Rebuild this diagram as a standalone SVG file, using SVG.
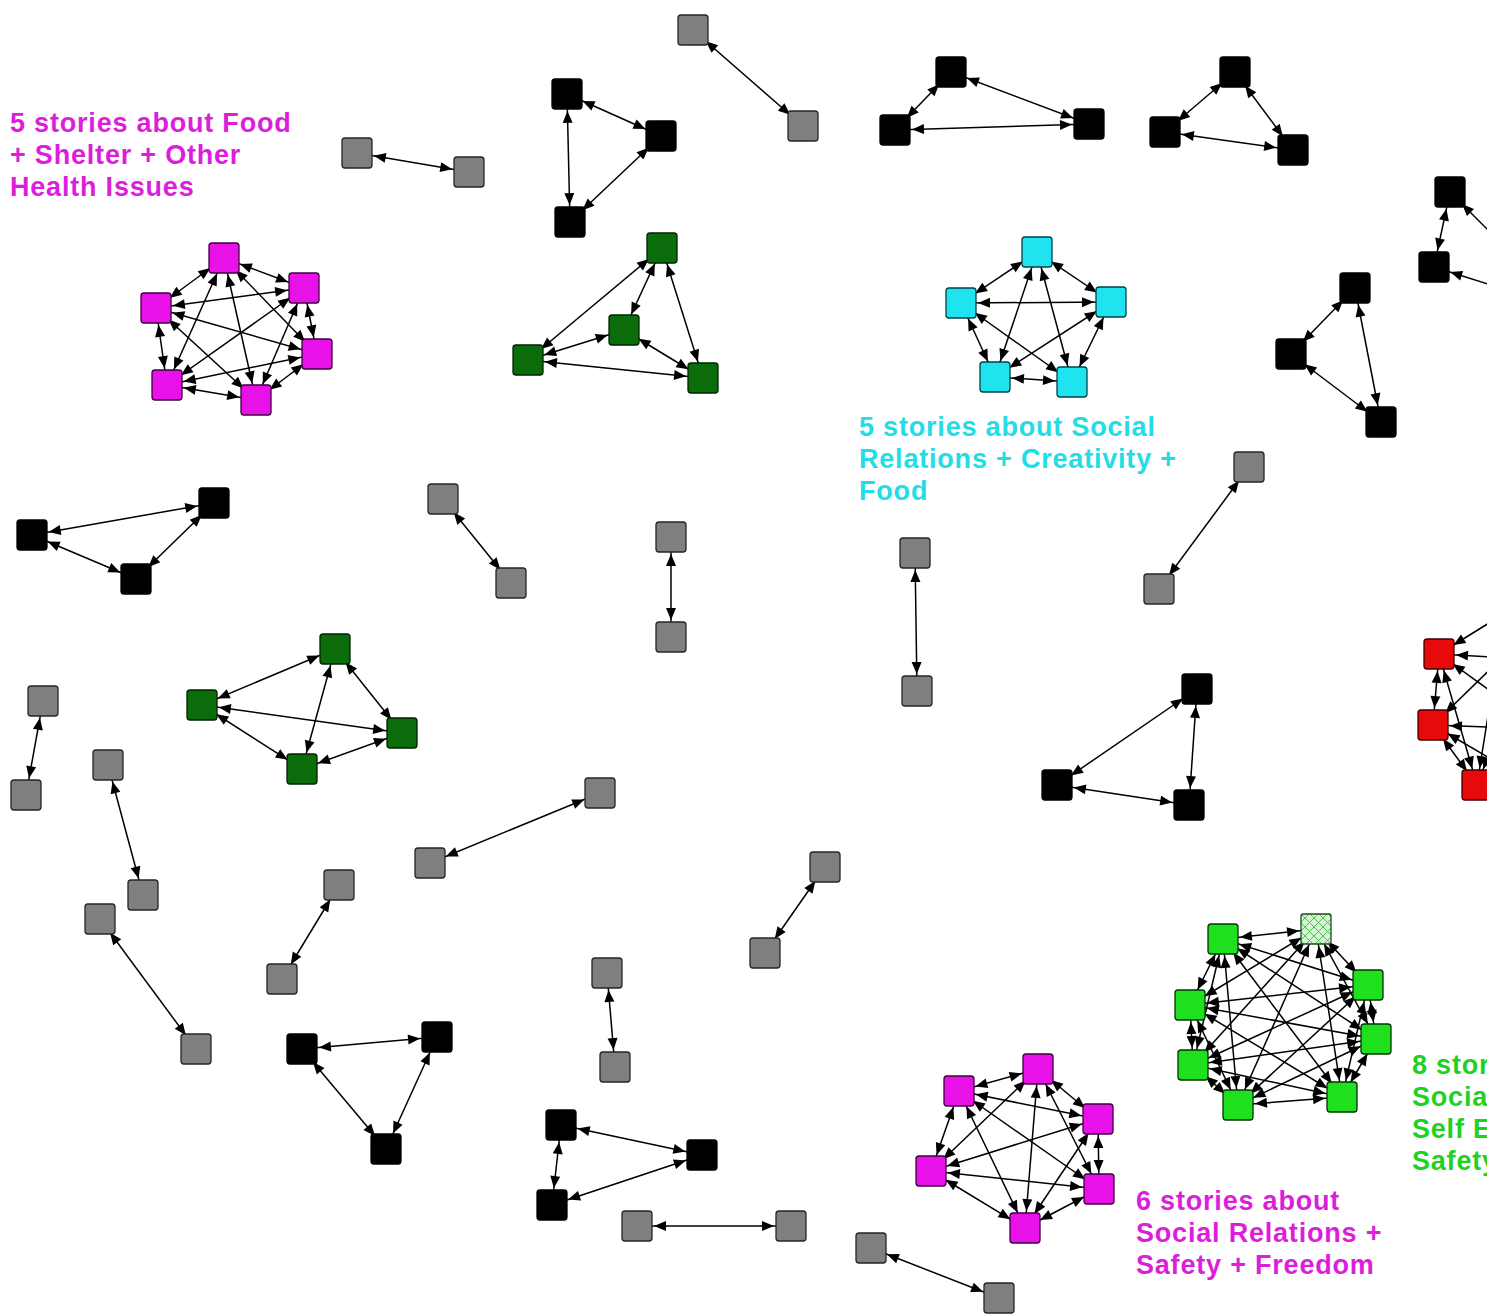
<svg xmlns="http://www.w3.org/2000/svg" width="1487" height="1315" viewBox="0 0 1487 1315">
  <style>
    .bg { fill: #ffffff; }
    #edges line { stroke: #000; stroke-width: 1.5; fill: none; }
    #edges .e { marker-start: url(#ah); marker-end: url(#ah); }
    #edges .s { marker-start: url(#ah); }
    .n rect { stroke-width: 1.3; }
    .gray rect { fill: #7f7f7f; stroke: #262626; }
    .blk rect { fill: #000000; stroke: #000000; }
    .mag rect { fill: #e812e8; stroke: #3d003d; }
    .cyn rect { fill: #1fe3ee; stroke: #00424a; }
    .dgr rect { fill: #0a6c0a; stroke: #002200; }
    .lgr rect { fill: #1fe01f; stroke: #043404; }
    .hat rect { fill: url(#hatch); stroke: #1f4a1f; }
    .red rect { fill: #e80a0a; stroke: #400000; }
    .lbl { font-family: "Liberation Sans", Arial, sans-serif; font-weight: bold; font-size: 27px; letter-spacing: 0.8px; }
    .lbl-mag { fill: #dc1edc; }
    .lbl-cyn { fill: #22dde6; }
    .lbl-grn { fill: #1fd21f; }
  </style>
  <defs>
    <marker id="ah" viewBox="0 -6 40 12" refX="40" refY="0" markerWidth="40" markerHeight="12" markerUnits="userSpaceOnUse" orient="auto-start-reverse">
      <path d="M23,0 L11,-5 L11,5 Z" fill="#000"/>
    </marker>
    <pattern id="hatch" patternUnits="userSpaceOnUse" width="9" height="9">
      <rect width="9" height="9" fill="#d4f5d4"/>
      <path d="M0,0 L9,9 M9,0 L0,9" stroke="#4cc24c" stroke-width="1"/>
    </pattern>
  </defs>
  <rect class="bg" x="0" y="0" width="1487" height="1315"/>

  <!-- connectors -->
  <g id="edges">
    <!-- gray pairs -->
    <line class="e" x1="693" y1="30" x2="803" y2="126"/>
    <line class="e" x1="357" y1="153" x2="469" y2="172"/>
    <line class="e" x1="443" y1="499" x2="511" y2="583"/>
    <line class="e" x1="671" y1="537" x2="671" y2="637"/>
    <line class="e" x1="915" y1="553" x2="917" y2="691"/>
    <line class="e" x1="1249" y1="467" x2="1159" y2="589"/>
    <line class="e" x1="43" y1="701" x2="26" y2="795"/>
    <line class="e" x1="108" y1="765" x2="143" y2="895"/>
    <line class="e" x1="600" y1="793" x2="430" y2="863"/>
    <line class="e" x1="339" y1="885" x2="282" y2="979"/>
    <line class="e" x1="825" y1="867" x2="765" y2="953"/>
    <line class="e" x1="100" y1="919" x2="196" y2="1049"/>
    <line class="e" x1="607" y1="973" x2="615" y2="1067"/>
    <line class="e" x1="637" y1="1226" x2="791" y2="1226"/>
    <line class="e" x1="871" y1="1248" x2="999" y2="1298"/>

    <!-- black triangles -->
    <line class="e" x1="567" y1="94" x2="661" y2="136"/>
    <line class="e" x1="567" y1="94" x2="570" y2="222"/>
    <line class="e" x1="661" y1="136" x2="570" y2="222"/>

    <line class="e" x1="951" y1="72" x2="895" y2="130"/>
    <line class="e" x1="951" y1="72" x2="1089" y2="124"/>
    <line class="e" x1="895" y1="130" x2="1089" y2="124"/>

    <line class="e" x1="1235" y1="72" x2="1165" y2="132"/>
    <line class="e" x1="1235" y1="72" x2="1293" y2="150"/>
    <line class="e" x1="1165" y1="132" x2="1293" y2="150"/>

    <line class="e" x1="1450" y1="192" x2="1434" y2="267"/>
    <line class="s" x1="1450" y1="192" x2="1510" y2="252"/>
    <line class="s" x1="1434" y1="267" x2="1510" y2="291"/>

    <line class="e" x1="1355" y1="288" x2="1291" y2="354"/>
    <line class="e" x1="1355" y1="288" x2="1381" y2="422"/>
    <line class="e" x1="1291" y1="354" x2="1381" y2="422"/>

    <line class="e" x1="214" y1="503" x2="32" y2="535"/>
    <line class="e" x1="214" y1="503" x2="136" y2="579"/>
    <line class="e" x1="32" y1="535" x2="136" y2="579"/>

    <line class="e" x1="1197" y1="689" x2="1057" y2="785"/>
    <line class="e" x1="1197" y1="689" x2="1189" y2="805"/>
    <line class="e" x1="1057" y1="785" x2="1189" y2="805"/>

    <line class="e" x1="437" y1="1037" x2="302" y2="1049"/>
    <line class="e" x1="437" y1="1037" x2="386" y2="1149"/>
    <line class="e" x1="302" y1="1049" x2="386" y2="1149"/>

    <line class="e" x1="561" y1="1125" x2="702" y2="1155"/>
    <line class="e" x1="561" y1="1125" x2="552" y2="1205"/>
    <line class="e" x1="702" y1="1155" x2="552" y2="1205"/>

    <!-- dark green groups -->
    <line class="e" x1="662" y1="248" x2="624" y2="330"/>
    <line class="e" x1="662" y1="248" x2="528" y2="360"/>
    <line class="e" x1="662" y1="248" x2="703" y2="378"/>
    <line class="e" x1="624" y1="330" x2="528" y2="360"/>
    <line class="e" x1="624" y1="330" x2="703" y2="378"/>
    <line class="e" x1="528" y1="360" x2="703" y2="378"/>

    <line class="e" x1="335" y1="649" x2="202" y2="705"/>
    <line class="e" x1="335" y1="649" x2="402" y2="733"/>
    <line class="e" x1="335" y1="649" x2="302" y2="769"/>
    <line class="e" x1="202" y1="705" x2="402" y2="733"/>
    <line class="e" x1="202" y1="705" x2="302" y2="769"/>
    <line class="e" x1="302" y1="769" x2="402" y2="733"/>

    <!-- magenta cluster, upper left -->
    <line class="e" x1="224" y1="258" x2="304" y2="288"/>
    <line class="e" x1="224" y1="258" x2="156" y2="308"/>
    <line class="e" x1="224" y1="258" x2="317" y2="354"/>
    <line class="e" x1="224" y1="258" x2="167" y2="385"/>
    <line class="e" x1="224" y1="258" x2="256" y2="400"/>
    <line class="e" x1="304" y1="288" x2="156" y2="308"/>
    <line class="e" x1="304" y1="288" x2="317" y2="354"/>
    <line class="e" x1="304" y1="288" x2="167" y2="385"/>
    <line class="e" x1="304" y1="288" x2="256" y2="400"/>
    <line class="e" x1="156" y1="308" x2="317" y2="354"/>
    <line class="e" x1="156" y1="308" x2="167" y2="385"/>
    <line class="e" x1="156" y1="308" x2="256" y2="400"/>
    <line class="e" x1="317" y1="354" x2="167" y2="385"/>
    <line class="e" x1="317" y1="354" x2="256" y2="400"/>
    <line class="e" x1="167" y1="385" x2="256" y2="400"/>

    <!-- cyan cluster -->
    <line class="e" x1="1037" y1="252" x2="961" y2="303"/>
    <line class="e" x1="1037" y1="252" x2="1111" y2="302"/>
    <line class="e" x1="1037" y1="252" x2="995" y2="377"/>
    <line class="e" x1="1037" y1="252" x2="1072" y2="382"/>
    <line class="e" x1="961" y1="303" x2="1111" y2="302"/>
    <line class="e" x1="961" y1="303" x2="995" y2="377"/>
    <line class="e" x1="961" y1="303" x2="1072" y2="382"/>
    <line class="e" x1="1111" y1="302" x2="995" y2="377"/>
    <line class="e" x1="1111" y1="302" x2="1072" y2="382"/>
    <line class="e" x1="995" y1="377" x2="1072" y2="382"/>

    <!-- magenta cluster, lower -->
    <line class="e" x1="1038" y1="1069" x2="959" y2="1091"/>
    <line class="e" x1="1038" y1="1069" x2="1098" y2="1119"/>
    <line class="e" x1="1038" y1="1069" x2="931" y2="1171"/>
    <line class="e" x1="1038" y1="1069" x2="1099" y2="1189"/>
    <line class="e" x1="1038" y1="1069" x2="1025" y2="1228"/>
    <line class="e" x1="959" y1="1091" x2="1098" y2="1119"/>
    <line class="e" x1="959" y1="1091" x2="931" y2="1171"/>
    <line class="e" x1="959" y1="1091" x2="1099" y2="1189"/>
    <line class="e" x1="959" y1="1091" x2="1025" y2="1228"/>
    <line class="e" x1="1098" y1="1119" x2="931" y2="1171"/>
    <line class="e" x1="1098" y1="1119" x2="1099" y2="1189"/>
    <line class="e" x1="1098" y1="1119" x2="1025" y2="1228"/>
    <line class="e" x1="931" y1="1171" x2="1099" y2="1189"/>
    <line class="e" x1="931" y1="1171" x2="1025" y2="1228"/>
    <line class="e" x1="1099" y1="1189" x2="1025" y2="1228"/>

    <!-- bright green cluster -->
    <line class="e" x1="1316" y1="929" x2="1223" y2="939"/>
    <line class="e" x1="1316" y1="929" x2="1368" y2="985"/>
    <line class="e" x1="1316" y1="929" x2="1190" y2="1005"/>
    <line class="e" x1="1316" y1="929" x2="1376" y2="1039"/>
    <line class="e" x1="1316" y1="929" x2="1193" y2="1065"/>
    <line class="e" x1="1316" y1="929" x2="1342" y2="1097"/>
    <line class="e" x1="1316" y1="929" x2="1238" y2="1105"/>
    <line class="e" x1="1223" y1="939" x2="1368" y2="985"/>
    <line class="e" x1="1223" y1="939" x2="1190" y2="1005"/>
    <line class="e" x1="1223" y1="939" x2="1376" y2="1039"/>
    <line class="e" x1="1223" y1="939" x2="1193" y2="1065"/>
    <line class="e" x1="1223" y1="939" x2="1342" y2="1097"/>
    <line class="e" x1="1223" y1="939" x2="1238" y2="1105"/>
    <line class="e" x1="1368" y1="985" x2="1190" y2="1005"/>
    <line class="e" x1="1368" y1="985" x2="1376" y2="1039"/>
    <line class="e" x1="1368" y1="985" x2="1193" y2="1065"/>
    <line class="e" x1="1368" y1="985" x2="1342" y2="1097"/>
    <line class="e" x1="1368" y1="985" x2="1238" y2="1105"/>
    <line class="e" x1="1190" y1="1005" x2="1376" y2="1039"/>
    <line class="e" x1="1190" y1="1005" x2="1193" y2="1065"/>
    <line class="e" x1="1190" y1="1005" x2="1342" y2="1097"/>
    <line class="e" x1="1190" y1="1005" x2="1238" y2="1105"/>
    <line class="e" x1="1376" y1="1039" x2="1193" y2="1065"/>
    <line class="e" x1="1376" y1="1039" x2="1342" y2="1097"/>
    <line class="e" x1="1376" y1="1039" x2="1238" y2="1105"/>
    <line class="e" x1="1193" y1="1065" x2="1342" y2="1097"/>
    <line class="e" x1="1193" y1="1065" x2="1238" y2="1105"/>
    <line class="e" x1="1342" y1="1097" x2="1238" y2="1105"/>

    <!-- red cluster at the right border -->
    <line class="e" x1="1439" y1="654" x2="1433" y2="725"/>
    <line class="e" x1="1439" y1="654" x2="1477" y2="785"/>
    <line class="e" x1="1433" y1="725" x2="1477" y2="785"/>
    <line class="s" x1="1439" y1="654" x2="1510" y2="610"/>
    <line class="s" x1="1439" y1="654" x2="1510" y2="658"/>
    <line class="s" x1="1439" y1="654" x2="1510" y2="705"/>
    <line class="s" x1="1433" y1="725" x2="1510" y2="650"/>
    <line class="s" x1="1433" y1="725" x2="1510" y2="728"/>
    <line class="s" x1="1433" y1="725" x2="1510" y2="770"/>
    <line class="s" x1="1477" y1="785" x2="1500" y2="640"/>
    <line class="s" x1="1477" y1="785" x2="1510" y2="700"/>
  </g>

  <!-- gray nodes -->
  <g id="g1a" class="n gray"><rect x="678" y="15" width="30" height="30" rx="3"/></g>
  <g id="g1b" class="n gray"><rect x="788" y="111" width="30" height="30" rx="3"/></g>
  <g id="g2a" class="n gray"><rect x="342" y="138" width="30" height="30" rx="3"/></g>
  <g id="g2b" class="n gray"><rect x="454" y="157" width="30" height="30" rx="3"/></g>
  <g id="g3a" class="n gray"><rect x="428" y="484" width="30" height="30" rx="3"/></g>
  <g id="g3b" class="n gray"><rect x="496" y="568" width="30" height="30" rx="3"/></g>
  <g id="g4a" class="n gray"><rect x="656" y="522" width="30" height="30" rx="3"/></g>
  <g id="g4b" class="n gray"><rect x="656" y="622" width="30" height="30" rx="3"/></g>
  <g id="g5a" class="n gray"><rect x="900" y="538" width="30" height="30" rx="3"/></g>
  <g id="g5b" class="n gray"><rect x="902" y="676" width="30" height="30" rx="3"/></g>
  <g id="g6a" class="n gray"><rect x="1234" y="452" width="30" height="30" rx="3"/></g>
  <g id="g6b" class="n gray"><rect x="1144" y="574" width="30" height="30" rx="3"/></g>
  <g id="g7a" class="n gray"><rect x="28" y="686" width="30" height="30" rx="3"/></g>
  <g id="g7b" class="n gray"><rect x="11" y="780" width="30" height="30" rx="3"/></g>
  <g id="g8a" class="n gray"><rect x="93" y="750" width="30" height="30" rx="3"/></g>
  <g id="g8b" class="n gray"><rect x="128" y="880" width="30" height="30" rx="3"/></g>
  <g id="g9a" class="n gray"><rect x="585" y="778" width="30" height="30" rx="3"/></g>
  <g id="g9b" class="n gray"><rect x="415" y="848" width="30" height="30" rx="3"/></g>
  <g id="g10a" class="n gray"><rect x="324" y="870" width="30" height="30" rx="3"/></g>
  <g id="g10b" class="n gray"><rect x="267" y="964" width="30" height="30" rx="3"/></g>
  <g id="g11a" class="n gray"><rect x="810" y="852" width="30" height="30" rx="3"/></g>
  <g id="g11b" class="n gray"><rect x="750" y="938" width="30" height="30" rx="3"/></g>
  <g id="g12a" class="n gray"><rect x="85" y="904" width="30" height="30" rx="3"/></g>
  <g id="g12b" class="n gray"><rect x="181" y="1034" width="30" height="30" rx="3"/></g>
  <g id="g13a" class="n gray"><rect x="592" y="958" width="30" height="30" rx="3"/></g>
  <g id="g13b" class="n gray"><rect x="600" y="1052" width="30" height="30" rx="3"/></g>
  <g id="g14a" class="n gray"><rect x="622" y="1211" width="30" height="30" rx="3"/></g>
  <g id="g14b" class="n gray"><rect x="776" y="1211" width="30" height="30" rx="3"/></g>
  <g id="g15a" class="n gray"><rect x="856" y="1233" width="30" height="30" rx="3"/></g>
  <g id="g15b" class="n gray"><rect x="984" y="1283" width="30" height="30" rx="3"/></g>

  <!-- black nodes -->
  <g id="bA1" class="n blk"><rect x="552" y="79" width="30" height="30" rx="3"/></g>
  <g id="bA2" class="n blk"><rect x="646" y="121" width="30" height="30" rx="3"/></g>
  <g id="bA3" class="n blk"><rect x="555" y="207" width="30" height="30" rx="3"/></g>
  <g id="bB1" class="n blk"><rect x="936" y="57" width="30" height="30" rx="3"/></g>
  <g id="bB2" class="n blk"><rect x="880" y="115" width="30" height="30" rx="3"/></g>
  <g id="bB3" class="n blk"><rect x="1074" y="109" width="30" height="30" rx="3"/></g>
  <g id="bC1" class="n blk"><rect x="1220" y="57" width="30" height="30" rx="3"/></g>
  <g id="bC2" class="n blk"><rect x="1150" y="117" width="30" height="30" rx="3"/></g>
  <g id="bC3" class="n blk"><rect x="1278" y="135" width="30" height="30" rx="3"/></g>
  <g id="bD1" class="n blk"><rect x="1435" y="177" width="30" height="30" rx="3"/></g>
  <g id="bD2" class="n blk"><rect x="1419" y="252" width="30" height="30" rx="3"/></g>
  <g id="bE1" class="n blk"><rect x="1340" y="273" width="30" height="30" rx="3"/></g>
  <g id="bE2" class="n blk"><rect x="1276" y="339" width="30" height="30" rx="3"/></g>
  <g id="bE3" class="n blk"><rect x="1366" y="407" width="30" height="30" rx="3"/></g>
  <g id="bF1" class="n blk"><rect x="199" y="488" width="30" height="30" rx="3"/></g>
  <g id="bF2" class="n blk"><rect x="17" y="520" width="30" height="30" rx="3"/></g>
  <g id="bF3" class="n blk"><rect x="121" y="564" width="30" height="30" rx="3"/></g>
  <g id="bG1" class="n blk"><rect x="1182" y="674" width="30" height="30" rx="3"/></g>
  <g id="bG2" class="n blk"><rect x="1042" y="770" width="30" height="30" rx="3"/></g>
  <g id="bG3" class="n blk"><rect x="1174" y="790" width="30" height="30" rx="3"/></g>
  <g id="bH1" class="n blk"><rect x="422" y="1022" width="30" height="30" rx="3"/></g>
  <g id="bH2" class="n blk"><rect x="287" y="1034" width="30" height="30" rx="3"/></g>
  <g id="bH3" class="n blk"><rect x="371" y="1134" width="30" height="30" rx="3"/></g>
  <g id="bI1" class="n blk"><rect x="546" y="1110" width="30" height="30" rx="3"/></g>
  <g id="bI2" class="n blk"><rect x="687" y="1140" width="30" height="30" rx="3"/></g>
  <g id="bI3" class="n blk"><rect x="537" y="1190" width="30" height="30" rx="3"/></g>

  <!-- dark green nodes -->
  <g id="dJ1" class="n dgr"><rect x="647" y="233" width="30" height="30" rx="3"/></g>
  <g id="dJ2" class="n dgr"><rect x="609" y="315" width="30" height="30" rx="3"/></g>
  <g id="dJ3" class="n dgr"><rect x="513" y="345" width="30" height="30" rx="3"/></g>
  <g id="dJ4" class="n dgr"><rect x="688" y="363" width="30" height="30" rx="3"/></g>
  <g id="dK1" class="n dgr"><rect x="320" y="634" width="30" height="30" rx="3"/></g>
  <g id="dK2" class="n dgr"><rect x="187" y="690" width="30" height="30" rx="3"/></g>
  <g id="dK3" class="n dgr"><rect x="387" y="718" width="30" height="30" rx="3"/></g>
  <g id="dK4" class="n dgr"><rect x="287" y="754" width="30" height="30" rx="3"/></g>

  <!-- magenta nodes, upper left -->
  <g id="m1a" class="n mag"><rect x="209" y="243" width="30" height="30" rx="3"/></g>
  <g id="m1b" class="n mag"><rect x="289" y="273" width="30" height="30" rx="3"/></g>
  <g id="m1c" class="n mag"><rect x="141" y="293" width="30" height="30" rx="3"/></g>
  <g id="m1d" class="n mag"><rect x="302" y="339" width="30" height="30" rx="3"/></g>
  <g id="m1e" class="n mag"><rect x="152" y="370" width="30" height="30" rx="3"/></g>
  <g id="m1f" class="n mag"><rect x="241" y="385" width="30" height="30" rx="3"/></g>

  <!-- cyan nodes -->
  <g id="c1" class="n cyn"><rect x="1022" y="237" width="30" height="30" rx="3"/></g>
  <g id="c2" class="n cyn"><rect x="946" y="288" width="30" height="30" rx="3"/></g>
  <g id="c3" class="n cyn"><rect x="1096" y="287" width="30" height="30" rx="3"/></g>
  <g id="c4" class="n cyn"><rect x="980" y="362" width="30" height="30" rx="3"/></g>
  <g id="c5" class="n cyn"><rect x="1057" y="367" width="30" height="30" rx="3"/></g>

  <!-- magenta nodes, lower -->
  <g id="m2a" class="n mag"><rect x="1023" y="1054" width="30" height="30" rx="3"/></g>
  <g id="m2b" class="n mag"><rect x="944" y="1076" width="30" height="30" rx="3"/></g>
  <g id="m2c" class="n mag"><rect x="1083" y="1104" width="30" height="30" rx="3"/></g>
  <g id="m2d" class="n mag"><rect x="916" y="1156" width="30" height="30" rx="3"/></g>
  <g id="m2e" class="n mag"><rect x="1084" y="1174" width="30" height="30" rx="3"/></g>
  <g id="m2f" class="n mag"><rect x="1010" y="1213" width="30" height="30" rx="3"/></g>

  <!-- bright green nodes -->
  <g id="ga" class="n hat"><rect x="1301" y="914" width="30" height="30" rx="2"/></g>
  <g id="gb" class="n lgr"><rect x="1208" y="924" width="30" height="30" rx="3"/></g>
  <g id="gc" class="n lgr"><rect x="1353" y="970" width="30" height="30" rx="3"/></g>
  <g id="gd" class="n lgr"><rect x="1175" y="990" width="30" height="30" rx="3"/></g>
  <g id="ge" class="n lgr"><rect x="1361" y="1024" width="30" height="30" rx="3"/></g>
  <g id="gf" class="n lgr"><rect x="1178" y="1050" width="30" height="30" rx="3"/></g>
  <g id="gg" class="n lgr"><rect x="1327" y="1082" width="30" height="30" rx="3"/></g>
  <g id="gh" class="n lgr"><rect x="1223" y="1090" width="30" height="30" rx="3"/></g>

  <!-- red nodes -->
  <g id="r1" class="n red"><rect x="1424" y="639" width="30" height="30" rx="3"/></g>
  <g id="r2" class="n red"><rect x="1418" y="710" width="30" height="30" rx="3"/></g>
  <g id="r3" class="n red"><rect x="1462" y="770" width="30" height="30" rx="3"/></g>

  <!-- group labels -->
  <g id="label-food" class="lbl lbl-mag">
    <text x="10" y="132">5 stories about Food</text>
    <text x="10" y="164">+ Shelter + Other</text>
    <text x="10" y="196">Health Issues</text>
  </g>
  <g id="label-social" class="lbl lbl-cyn">
    <text x="859" y="436">5 stories about Social</text>
    <text x="859" y="468">Relations + Creativity +</text>
    <text x="859" y="500">Food</text>
  </g>
  <g id="label-safety" class="lbl lbl-mag">
    <text x="1136" y="1210">6 stories about</text>
    <text x="1136" y="1242">Social Relations +</text>
    <text x="1136" y="1274">Safety + Freedom</text>
  </g>
  <g id="label-eight" class="lbl lbl-grn">
    <text x="1412" y="1074">8 stor</text>
    <text x="1412" y="1106">Socia</text>
    <text x="1412" y="1138">Self E</text>
    <text x="1412" y="1170">Safety</text>
  </g>
</svg>
